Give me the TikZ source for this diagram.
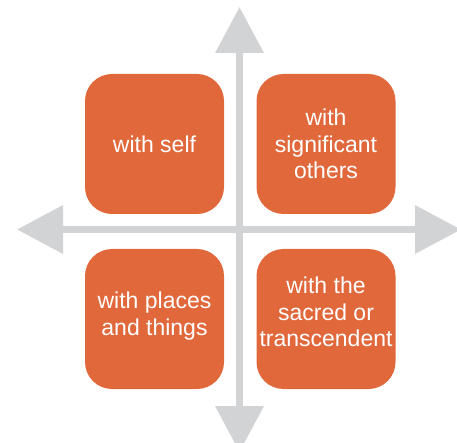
\documentclass[tikz,border=0pt]{standalone}
\usepackage{fontspec}
\setmainfont{Liberation Sans}
\usetikzlibrary{arrows.meta}
\definecolor{boxorange}{HTML}{E1683B}
\definecolor{axisgray}{HTML}{D1D3D4}
\tikzset{
  quad/.style={draw=none, fill=boxorange, rounded corners=27pt,
    minimum width=139pt, minimum height=140pt, inner sep=0pt},
  quadtext/.style={text=white, align=center, inner sep=0pt,
    font=\fontsize{23pt}{26.5pt}\selectfont},
  axis/.style={draw=axisgray, line width=7pt,
    arrows={Triangle[length=46pt,width=47pt,fill=axisgray]-Triangle[length=46pt,width=47pt,fill=axisgray]}}
}
\begin{document}
\begin{tikzpicture}[x=1pt,y=-1pt]
\useasboundingbox (0,0) rectangle (457,443);
\clip (0,0) rectangle (457,443);
\coordinate (L) at (17,229.5);
\coordinate (R) at (461,229.5);
\coordinate (T) at (239.5,7);
\coordinate (B) at (239.5,452);
\draw[axis] (L) -- (R);
\draw[axis] (B) -- (T);
\node[quad] (q1) at (154.5,144) {};
\node[quad] (q2) at (326,144) {};
\node[quad] (q3) at (154.5,319) {};
\node[quad] (q4) at (326,319) {};
\node[quadtext] (t1) at (q1) {with self};
\node[quadtext] (t2) at (q2) {with\\significant\\others};
\node[quadtext] (t3) at ([yshift=3pt]q3) {with places\\and things};
\node[quadtext] (t4) at ([yshift=7pt]q4) {with the\\sacred or\\transcendent};
\end{tikzpicture}
\end{document}
